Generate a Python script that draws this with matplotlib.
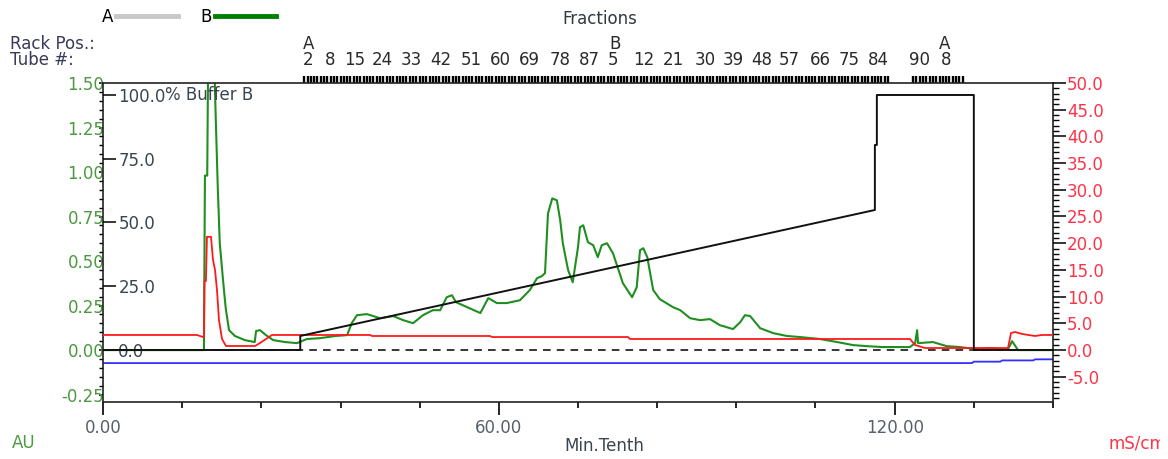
import numpy as np
import matplotlib
matplotlib.use("Agg")
import matplotlib.pyplot as plt
from matplotlib.lines import Line2D
from matplotlib.ticker import MultipleLocator, FormatStrFormatter
from matplotlib.transforms import Bbox, blended_transform_factory

plt.rcParams["axes.unicode_minus"] = False
plt.rcParams["font.family"] = "DejaVu Sans"

# === Data ===
# UV absorbance, curve B [AU]
uv_t = [0, 15.2, 15.3, 15.45, 15.8, 15.95, 16.8, 17.1, 17.4, 17.7, 18.2, 18.6, 19.1,
        20.0, 21.5, 23.0, 23.2, 23.8, 24.7, 25.8, 27.6, 29.4, 30.9, 32.9, 35.2, 37.0,
        37.7, 38.5, 40.0, 42.0, 44.0, 45.5, 47.0, 48.5, 50.0, 51.1, 52.1, 52.9, 53.5,
        55.2, 57.2, 58.4, 59.7, 61.2, 63.2, 64.7, 65.8, 66.5, 67.0, 67.45, 68.1, 68.8,
        69.3, 69.7, 70.5, 71.2, 72.0, 72.3, 72.8, 73.5, 74.3, 75.0, 75.6, 76.4, 77.3,
        77.9, 78.8, 80.2, 80.9, 81.4, 81.9, 82.5, 83.4, 84.4, 86.4, 87.5, 89.0, 90.5,
        92.0, 93.5, 95.5, 96.6, 97.3, 98.1, 99.6, 101.6, 103.7, 105.7, 108.7, 111.3,
        113.7, 115.8, 118.2, 122.3, 123.1, 123.4, 123.55, 125.8, 127.9, 129.9, 132.2,
        134.5, 136.0, 137.2, 137.8, 138.2, 138.7, 144.0]
uv_au = [0, 0, 0, 0.98, 0.98, 1.70, 1.70, 1.29, 0.91, 0.60, 0.39, 0.236, 0.112,
         0.079, 0.056, 0.045, 0.107, 0.112, 0.084, 0.056, 0.045, 0.039, 0.062, 0.067, 0.079, 0.084,
         0.151, 0.196, 0.202, 0.179, 0.191, 0.168, 0.151, 0.196, 0.224, 0.224, 0.297, 0.308, 0.269,
         0.241, 0.208, 0.292, 0.264, 0.264, 0.280, 0.337, 0.404, 0.415, 0.432, 0.768, 0.852, 0.841,
         0.729, 0.600, 0.449, 0.381, 0.578, 0.690, 0.701, 0.606, 0.589, 0.522, 0.589, 0.600, 0.544,
         0.477, 0.376, 0.297, 0.353, 0.561, 0.572, 0.522, 0.337, 0.286, 0.241, 0.224, 0.179, 0.168,
         0.174, 0.140, 0.118, 0.157, 0.196, 0.191, 0.123, 0.095, 0.079, 0.073, 0.062, 0.045,
         0.028, 0.022, 0.017, 0.017, 0.039, 0.112, 0.039, 0.045, 0.022, 0.017, 0.006,
         0.011, 0.006, 0.006, 0.050, 0.028, 0.0, 0.0]

# Conductivity [mS/cm]
cond_t = [0, 14.25, 15.15, 15.3, 15.38, 15.6, 15.76, 16.37, 16.67, 16.98, 17.28, 17.58,
          18.04, 18.64, 23.04, 23.8, 24.71, 25.62, 40.47, 40.78, 58.66, 58.97, 79.58,
          79.88, 122.33, 123.08, 124.6, 137.18, 137.64, 138.24, 139.3, 141.27, 142.33, 144]
cond_ms = [2.81, 2.81, 2.43, 2.43, 12.9, 12.9, 21.2, 21.2, 16.9, 15.0, 11.2, 5.6,
           2.06, 0.75, 0.75, 1.31, 2.06, 2.81, 2.81, 2.62, 2.62, 2.43, 2.43,
           2.06, 2.06, 0.94, 0.37, 0.37, 3.18, 3.37, 3.0, 2.62, 2.81, 2.81]

# Concentration [% Buffer B]
conc_t = [0, 29.9, 29.9, 117.0, 117.0, 117.3, 117.3, 132.0, 132.0, 144]
conc_b = [0, 0, 5.5, 54.9, 80.4, 80.4, 100, 100, 0, 0]

# Blue trace (baseline signal) [AU]
base_t = [0, 131.7, 132.0, 136.0, 136.3, 141.0, 141.3, 144]
base_au = [-0.073, -0.073, -0.065, -0.065, -0.058, -0.058, -0.052, -0.052]

# Fractions: collected blocks (start, end) in min, 0.5 min per tube
frac_blocks = [(30.5, 119.1), (122.8, 130.4)]
frac_width = 0.5
tube_labels = ["2", "8", "15", "24", "33", "42", "51", "60", "69", "78", "87", "5", "12",
               "21", "30", "39", "48", "57", "66", "75", "84", "90", "8"]
tube_pos = [31.1, 34.4, 38.1, 42.4, 46.7, 51.2, 55.8, 60.2, 64.7, 69.3, 73.8, 77.3, 82.0,
            86.4, 91.3, 95.5, 99.9, 104.0, 108.7, 113.1, 117.5, 123.8, 127.8]
rack_labels = ["A", "B", "A"]
rack_pos = [31.2, 77.6, 127.5]

# === Figure ===
W, H = 1168, 459
fig = plt.figure(figsize=(W / 100, H / 100), dpi=100)
ax = fig.add_axes([103 / W, 1 - 402 / H, 950 / W, 319 / H])
axC = ax.twinx()   # conductivity, right
axB = ax.twinx()   # % buffer B, left inner

au_col = "#4c9a40"
ms_col = "#ff3348"
txt_col = "#3a4550"

# === Curves ===
ax.plot(base_t, base_au, color="#3030ff", lw=1.3)
ax.axhline(0, color="k", lw=1.1, ls=(0, (5, 4)))
ax.plot(uv_t, uv_au, color="#1f8f1f", lw=1.5)
axC.plot(cond_t, cond_ms, color="#ff1a1a", lw=1.3)
axB.plot(conc_t, conc_b, color="#111111", lw=1.4)

# === Axes limits / ticks ===
ax.set_xlim(0, 144)
ax.set_ylim(-0.2916, 1.50)
axC.set_ylim(-9.74, 50)
axB.set_ylim(-20.4, 104.7)

ax.xaxis.set_major_locator(MultipleLocator(60))
ax.xaxis.set_minor_locator(MultipleLocator(12))
ax.xaxis.set_major_formatter(FormatStrFormatter("%.2f"))
ax.tick_params(axis="x", which="major", direction="out", length=9.5, width=1.2,
               labelsize=12, pad=3, labelcolor="#55606a")
ax.tick_params(axis="x", which="minor", direction="out", length=4.5, width=1.2)

ax.yaxis.set_major_locator(MultipleLocator(0.25))
ax.yaxis.set_minor_locator(MultipleLocator(0.05))
ax.yaxis.set_major_formatter(FormatStrFormatter("%.2f"))
ax.tick_params(axis="y", which="major", direction="out", length=3, width=1.1,
               labelsize=12, pad=-4, labelcolor=au_col)
ax.tick_params(axis="y", which="minor", direction="out", length=3, width=1.0)

axC.yaxis.set_major_locator(MultipleLocator(5))
axC.yaxis.set_minor_locator(MultipleLocator(1))
axC.yaxis.set_major_formatter(FormatStrFormatter("%.1f"))
axC.tick_params(axis="y", which="major", direction="out", length=9, width=1.1,
                labelsize=12, pad=1, labelcolor=ms_col)
axC.tick_params(axis="y", which="minor", direction="out", length=4.5, width=1.0)

axB.yaxis.set_ticks_position("left")
axB.yaxis.set_major_locator(MultipleLocator(25))
axB.yaxis.set_major_formatter(FormatStrFormatter("%.1f"))
axB.tick_params(axis="y", which="major", direction="in", length=9, width=1.1,
                labelsize=12, pad=-11, labelcolor=txt_col)
for lab in axB.get_yticklabels():
    lab.set_horizontalalignment("left")

for a in (axB, axC):
    for s in a.spines.values():
        s.set_visible(False)
for s in ax.spines.values():
    s.set_linewidth(1.2)
    s.set_color("#222222")

trB = blended_transform_factory(axB.transAxes, axB.transData)
axB.text(0.065, 100, "% Buffer B", transform=trB, va="center", ha="left",
         fontsize=12, color=txt_col)

# === Fractions band ===
xtr = ax.get_xaxis_transform()
frac_x = np.concatenate([np.arange(s, e, frac_width) for s, e in frac_blocks])
ax.vlines(frac_x, 1.0, 1.0 + 7 / 319, transform=xtr, colors="k", lw=1.7, clip_on=False)
for lab, x in zip(tube_labels, tube_pos):
    ax.text(x, (402 - 60) / 319, lab, transform=xtr, ha="center", va="center",
            fontsize=12, color="#2a2a2a")
for lab, x in zip(rack_labels, rack_pos):
    ax.text(x, (402 - 44) / 319, lab, transform=xtr, ha="center", va="center",
            fontsize=12, color="#2a2a2a")

# === Figure texts ===
fig.text(10 / W, 1 - 44 / H, "Rack Pos.:", ha="left", va="center", fontsize=12, color="#3a3a5a")
fig.text(10 / W, 1 - 60 / H, "Tube #:", ha="left", va="center", fontsize=12, color="#3a3a5a")
fig.text(600 / W, 1 - 19 / H, "Fractions", ha="center", va="center", fontsize=12, color="#303840")
fig.text(12 / W, 1 - 443 / H, "AU", ha="left", va="center", fontsize=12, color=au_col)
fig.text(604 / W, 1 - 446 / H, "Min.Tenth", ha="center", va="center", fontsize=12, color=txt_col)
t = fig.text(1108 / W, 1 - 443 / H, "mS/cm", ha="left", va="center", fontsize=12, color=ms_col)
t.set_clip_box(Bbox([[0, 0], [1160, H]]))
t.set_clip_on(True)

handles = [Line2D([], [], color="#c8c8c8", lw=3.5), Line2D([], [], color="#008000", lw=3.5)]
fig.legend(handles, ["A", "B"], loc="center left", bbox_to_anchor=(102 / W, 1 - 17 / H),
           ncol=2, frameon=False, markerfirst=False, handlelength=3.7, handletextpad=0.15,
           columnspacing=1.4, fontsize=12, borderpad=0, borderaxespad=0)

fig.savefig("out.png", dpi=100)
print("✅ Chart saved to out.png")
